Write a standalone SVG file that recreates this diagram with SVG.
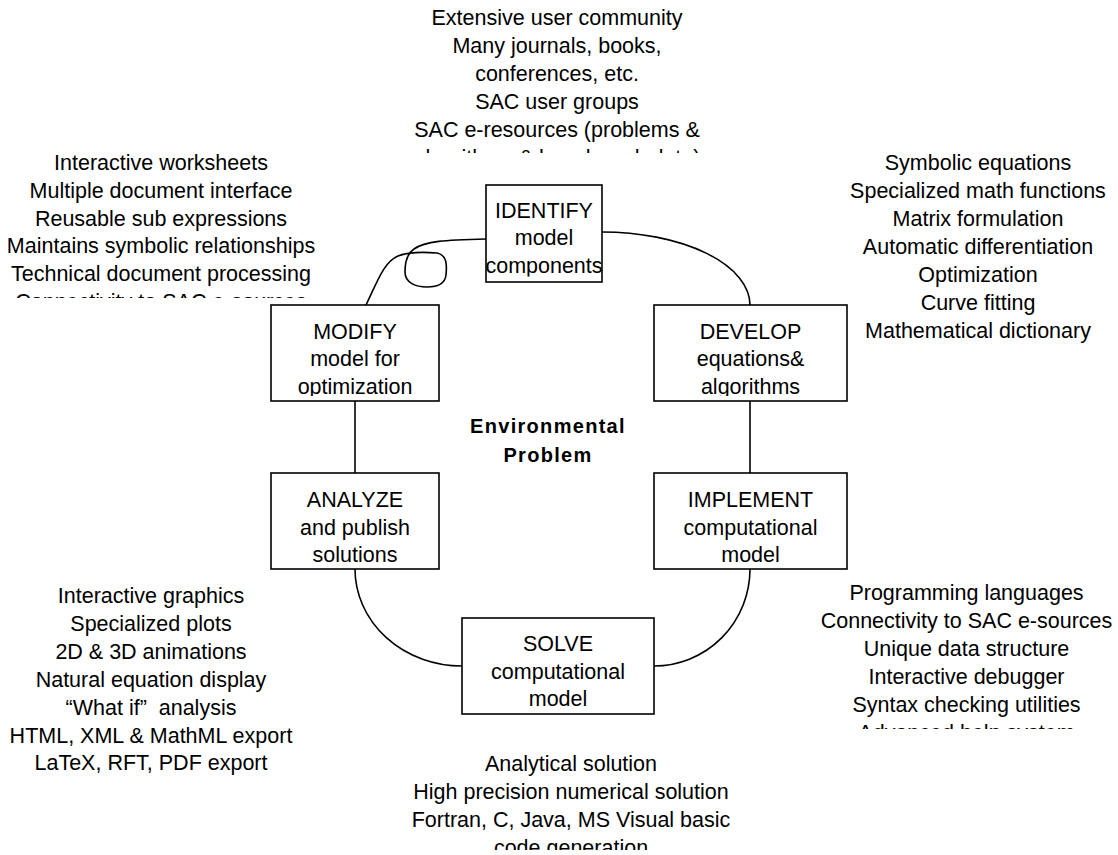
<svg xmlns="http://www.w3.org/2000/svg" width="1118" height="855" viewBox="0 0 1118 855">
<style>
text{font-family:"Liberation Sans",Arial,sans-serif;font-size:21.5px;fill:#000;text-anchor:middle}
.box{fill:#fff;stroke:#000;stroke-width:1.6}
.con{fill:none;stroke:#000;stroke-width:1.6}
.title{font-weight:bold;font-size:20px;letter-spacing:1.3px}
</style>
<defs>
<clipPath id="cTop"><rect x="0" y="0" width="1118" height="153"/></clipPath>
<clipPath id="cTL"><rect x="0" y="100" width="480" height="198"/></clipPath>
<clipPath id="cBR"><rect x="760" y="570" width="358" height="159"/></clipPath>
<clipPath id="cBC"><rect x="380" y="740" width="400" height="110"/></clipPath>
<clipPath id="cId"><rect x="486" y="185" width="116" height="91.5"/></clipPath>
<clipPath id="cDev"><rect x="654" y="305" width="193" height="91"/></clipPath>
<clipPath id="cMod"><rect x="271" y="305" width="168" height="91"/></clipPath>
</defs>
<rect width="1118" height="855" fill="#fff"/>

<g id="connectors">
<path class="con" d="M602,232 A148,73 0 0 1 750,305"/>
<path class="con" d="M750,401 V473"/>
<path class="con" d="M750,569 A96,97 0 0 1 654,666"/>
<path class="con" d="M462,666 A107,97 0 0 1 355,569"/>
<path class="con" d="M355,473 V401"/>
<path class="con" d="M366,305 C378,280 384,262 398,256 C408,252 425,252 437,253 C447,255 447,265 446,275 C445,284 438,287 427,287 C416,287 405,283 405,272 C405,262 408,253 414,249 C425,241 445,240 486,239"/>
</g>

<g id="identify">
<rect class="box" x="486" y="185" width="116" height="97"/>
<g clip-path="url(#cId)">
<text x="544" y="217.5">IDENTIFY</text>
<text x="544" y="245">model</text>
<text x="544" y="272.5">components</text>
</g>
</g>

<g id="develop">
<rect class="box" x="654" y="305" width="193" height="96"/>
<g clip-path="url(#cDev)">
<text x="750.5" y="338.5">DEVELOP</text>
<text x="750.5" y="366">equations&amp;</text>
<text x="750.5" y="393.5">algorithms</text>
</g>
</g>

<g id="implement">
<rect class="box" x="654" y="473" width="193" height="96"/>
<text x="750.5" y="506.5">IMPLEMENT</text>
<text x="750.5" y="534.5">computational</text>
<text x="750.5" y="562">model</text>
</g>

<g id="solve">
<rect class="box" x="462" y="618" width="192" height="96"/>
<text x="558" y="650.5">SOLVE</text>
<text x="558" y="678.5">computational</text>
<text x="558" y="706">model</text>
</g>

<g id="analyze">
<rect class="box" x="271" y="473" width="168" height="96"/>
<text x="355" y="506.5">ANALYZE</text>
<text x="355" y="534.5">and publish</text>
<text x="355" y="562">solutions</text>
</g>

<g id="modify">
<rect class="box" x="271" y="305" width="168" height="96"/>
<g clip-path="url(#cMod)">
<text x="355" y="338.5">MODIFY</text>
<text x="355" y="366">model for</text>
<text x="355" y="393.5">optimization</text>
</g>
</g>

<g id="center">
<text class="title" x="548" y="433">Environmental</text>
<text class="title" x="548" y="462">Problem</text>
</g>

<g id="community" clip-path="url(#cTop)">
<text x="557" y="25">Extensive user community</text>
<text x="557" y="53">Many journals, books,</text>
<text x="557" y="81">conferences, etc.</text>
<text x="557" y="109">SAC user groups</text>
<text x="557" y="137">SAC e-resources (problems &amp;</text>
<text x="557" y="165">algorithms &amp; benchmark data)</text>
</g>

<g id="modify-notes" clip-path="url(#cTL)">
<text x="161" y="169.5">Interactive worksheets</text>
<text x="161" y="197.5">Multiple document interface</text>
<text x="161" y="225.5">Reusable sub expressions</text>
<text x="161" y="253">Maintains symbolic relationships</text>
<text x="161" y="281">Technical document processing</text>
<text x="161" y="309">Connectivity to SAC e-sources</text>
</g>

<g id="develop-notes">
<text x="978" y="169.5">Symbolic equations</text>
<text x="978" y="197.5">Specialized math functions</text>
<text x="978" y="225.5">Matrix formulation</text>
<text x="978" y="253.5">Automatic differentiation</text>
<text x="978" y="281.5">Optimization</text>
<text x="978" y="309.5">Curve fitting</text>
<text x="978" y="337.5">Mathematical dictionary</text>
</g>

<g id="analyze-notes">
<text x="151" y="603">Interactive graphics</text>
<text x="151" y="631">Specialized plots</text>
<text x="151" y="659">2D &amp; 3D animations</text>
<text x="151" y="687">Natural equation display</text>
<text x="151" y="715" style="white-space:pre">“What if”  analysis</text>
<text x="151" y="742.5">HTML, XML &amp; MathML export</text>
<text x="151" y="770">LaTeX, RFT, PDF export</text>
</g>

<g id="implement-notes" clip-path="url(#cBR)">
<text x="966.5" y="600">Programming languages</text>
<text x="966.5" y="628">Connectivity to SAC e-sources</text>
<text x="966.5" y="656">Unique data structure</text>
<text x="966.5" y="684">Interactive debugger</text>
<text x="966.5" y="712">Syntax checking utilities</text>
<text x="966.5" y="740">Advanced help system</text>
</g>

<g id="solve-notes" clip-path="url(#cBC)">
<text x="571" y="771">Analytical solution</text>
<text x="571" y="799">High precision numerical solution</text>
<text x="571" y="827">Fortran, C, Java, MS Visual basic</text>
<text x="571" y="855">code generation</text>
</g>
</svg>
